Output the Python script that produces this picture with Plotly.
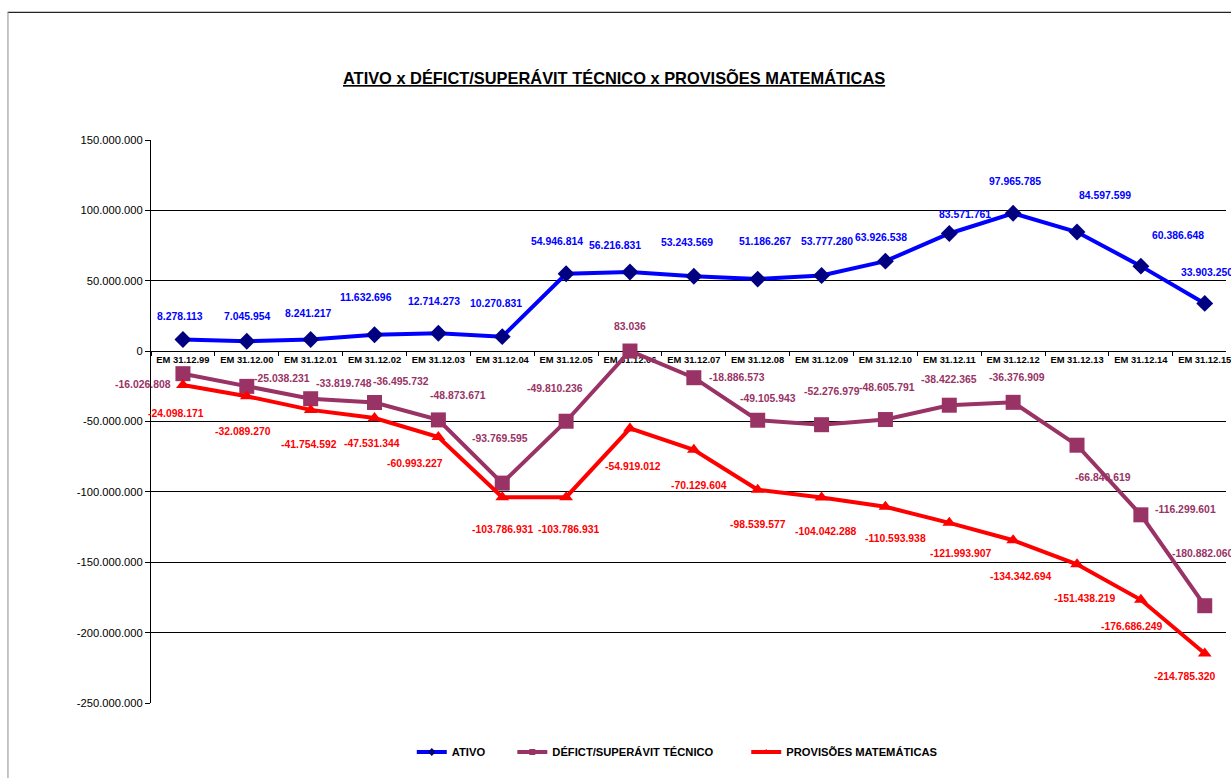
import plotly.graph_objects as go

categories = ["EM 31.12.99", "EM 31.12.00", "EM 31.12.01", "EM 31.12.02", "EM 31.12.03",
              "EM 31.12.04", "EM 31.12.05", "EM 31.12.06", "EM 31.12.07", "EM 31.12.08",
              "EM 31.12.09", "EM 31.12.10", "EM 31.12.11", "EM 31.12.12", "EM 31.12.13",
              "EM 31.12.14", "EM 31.12.15"]

ativo = [8278113, 7045954, 8241217, 11632696, 12714273, 10270831, 54946814, 56216831,
         53243569, 51186267, 53777280, 63926538, 83571761, 97965785, 84597599, 60386648,
         33903250]

deficit = [-16026808, -25038231, -33819748, -36495732, -48873671, -93769595, -49810236,
           83036, -18886573, -49105943, -52276979, -48605791, -38422365, -36376909,
           -66840619, -116299601, -180882060]

provisoes = [-24098171, -32089270, -41754592, -47531344, -60993227, -103786931,
             -103786931, -54919012, -70129604, -98539577, -104042288, -110593938,
             -121993907, -134342694, -151438219, -176686249, -214785320]

series_names = ["ATIVO", "DÉFICT/SUPERÁVIT TÉCNICO", "PROVISÕES MATEMÁTICAS"]

y_tickvals = [150000000, 100000000, 50000000, 0, -50000000, -100000000, -150000000,
              -200000000, -250000000]
y_ticktext = ["150.000.000", "100.000.000", "50.000.000", "0", "-50.000.000",
              "-100.000.000", "-150.000.000", "-200.000.000", "-250.000.000"]

title_text = "ATIVO x DÉFICT/SUPERÁVIT TÉCNICO x PROVISÕES MATEMÁTICAS"

# label pixel offsets (dx right, dy down) - styling only
ativo_off = [(-3, -23), (0, -25), (-3, -26), (-9, -37), (-4, -32), (-6, -33), (-9, -32),
             (-15, -27), (-7, -34), (7, -38), (5, -34), (-4, -24), (16, -19), (2, -32),
             (28, -37), (37, -31), (2, -31)]
deficit_off = [(-40, 11), (35, -8), (33, -15), (26, -21), (20, -24), (-2, -45), (-11, -33),
               (0, -25), (43, 0), (10, -22), (10, -33), (2, -32), (0, -26), (4, -25),
               (26, 32), (45, -5), (-2, -52)]
prov_off = [(-7, 28), (-4, 35), (-2, 35), (-3, 25), (-23, 27), (0, 32), (2, 32), (3, 38),
            (5, 36), (0, 35), (4, 34), (10, 32), (11, 31), (7, 36), (7, 34), (-9, 27),
            (-20, 23)]

FONT = "Liberation Sans, Arial, sans-serif"

C_BLUE = "#0000FF"
C_NAVY = "#000080"
C_PLUM = "#993366"
C_RED = "#FF0000"


def fmt(v):
    return f"{v:,}".replace(",", ".")


L, T, B = 151, 140, 75
W, H = 1231, 778
pw = W - L
ph = H - T - B


def px_x(px):
    return (px - L) / pw


def px_y(py):
    return (H - B - py) / ph


fig = go.Figure()

fig.add_trace(go.Scatter(x=categories, y=ativo, mode="lines+markers", name=series_names[0],
                         line=dict(color=C_BLUE, width=4),
                         marker=dict(symbol="diamond", size=13, color=C_NAVY, line=dict(width=0)),
                         showlegend=False))
fig.add_trace(go.Scatter(x=categories, y=deficit, mode="lines+markers", name=series_names[1],
                         line=dict(color=C_PLUM, width=4),
                         marker=dict(symbol="square", size=15, color=C_PLUM, line=dict(width=0)),
                         showlegend=False))
fig.add_trace(go.Scatter(x=categories, y=provisoes, mode="lines+markers", name=series_names[2],
                         line=dict(color=C_RED, width=4),
                         marker=dict(symbol="triangle-up", size=12, color=C_RED, line=dict(width=0)),
                         showlegend=False))

# legend-only entries (small symbols like the original)
leg_specs = [(series_names[0], C_BLUE, C_NAVY, "diamond", "legend"),
             (series_names[1], C_PLUM, C_PLUM, "square", "legend2"),
             (series_names[2], C_RED, C_RED, "triangle-up", "legend3")]
for nm, lc, mc, sym, lg in leg_specs:
    fig.add_trace(go.Scatter(x=[None], y=[None], mode="lines+markers", name=nm,
                             line=dict(color=lc, width=4),
                             marker=dict(symbol=sym, size=6, color=mc, line=dict(width=0)),
                             legend=lg, showlegend=True, hoverinfo="skip"))

annotations = []
for vals, offs, col in [(ativo, ativo_off, C_BLUE), (deficit, deficit_off, C_PLUM),
                        (provisoes, prov_off, C_RED)]:
    for c, v, (dx, dy) in zip(categories, vals, offs):
        annotations.append(dict(x=c, y=v, xref="x", yref="y", text=fmt(v), showarrow=False,
                                xshift=dx, yshift=-dy, xanchor="center", yanchor="middle",
                                font=dict(family=FONT, size=10.4, color=col, weight="bold")))

annotations.append(dict(x=px_x(616), y=px_y(78), xref="paper", yref="paper",
                        text="<u>" + title_text + "</u>", showarrow=False,
                        xanchor="center", yanchor="middle",
                        font=dict(family=FONT, size=16.4, color="#000000", weight="bold")))

shapes = [
    dict(type="line", xref="paper", yref="paper", x0=px_x(7), x1=px_x(1240), y0=px_y(12.3),
         y1=px_y(12.3), line=dict(color="#222222", width=1.2)),
    dict(type="line", xref="paper", yref="paper", x0=px_x(7.3), x1=px_x(7.3), y0=px_y(12.3),
         y1=px_y(800), line=dict(color="#A0A0A0", width=1.2)),
]

legend_common = dict(orientation="h", yanchor="middle", xanchor="left",
                     font=dict(family=FONT, size=11.2, color="#000000", weight="bold"),
                     bgcolor="rgba(0,0,0,0)", itemwidth=30)

fig.update_layout(
    width=W, height=H,
    margin=dict(l=L, r=0, t=T, b=B, pad=0),
    paper_bgcolor="white", plot_bgcolor="white",
    annotations=annotations,
    shapes=shapes,
    legend=dict(x=px_x(413), y=px_y(752), **legend_common),
    legend2=dict(x=px_x(514), y=px_y(752), **legend_common),
    legend3=dict(x=px_x(749), y=px_y(752), **legend_common),
    xaxis=dict(type="category", categoryorder="array", categoryarray=categories,
               range=[-0.5, -0.5 + pw / 64.16], anchor="free", position=250 / 400,
               showline=True, linecolor="#000000", linewidth=1,
               ticks="outside", ticklen=4, tickcolor="#000000", tickson="boundaries",
               showgrid=False, zeroline=False, layer="below traces", tickangle=0,
               tickfont=dict(family=FONT, size=9.4, color="#000000", weight="bold")),
    yaxis=dict(range=[-250000000, 150000000], tickvals=y_tickvals, ticktext=y_ticktext,
               showline=True, linecolor="#000000", linewidth=1,
               ticks="outside", ticklen=5, tickcolor="#000000",
               showgrid=True, gridcolor="#000000", gridwidth=1, zeroline=False,
               tickfont=dict(family=FONT, size=11.2, color="#000000")),
    hovermode=False,
)

fig.write_html("out.html", config={"displayModeBar": False},
               post_script="document.body.style.margin='0';document.body.style.overflow='hidden';")
